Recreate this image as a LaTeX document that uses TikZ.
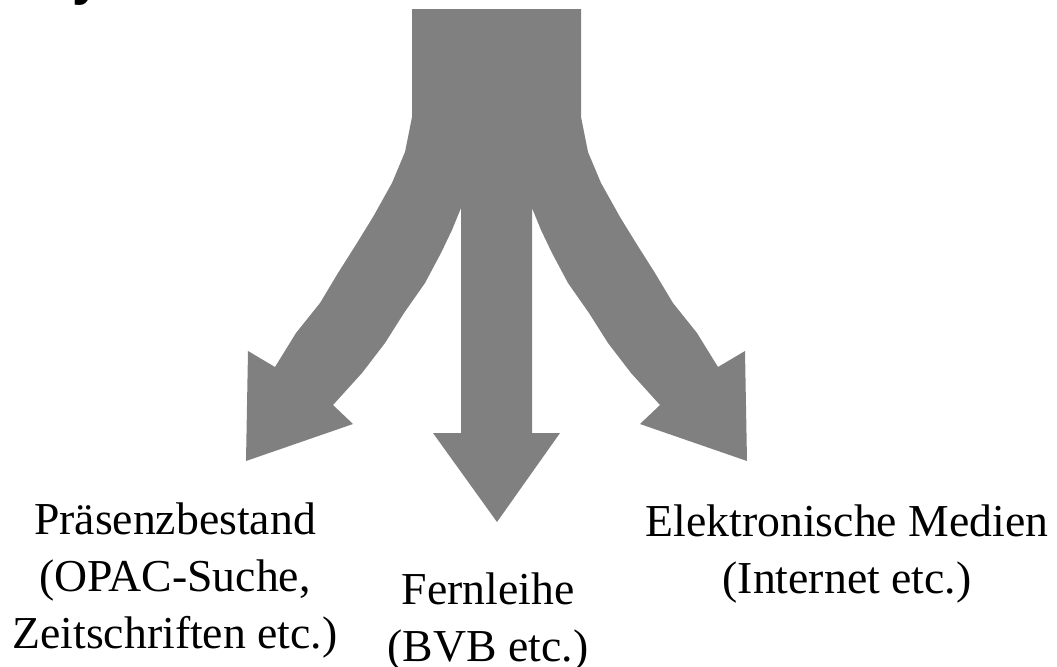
\documentclass[tikz,border=0pt]{standalone}
\usepackage{fontspec}
\setmainfont{Liberation Serif}
\newfontfamily\headfont{Liberation Sans Bold}
\usepackage{tikz}
\definecolor{arrowgray}{RGB}{128,128,128}

\begin{document}
\begin{tikzpicture}[x=0.01cm,y=-0.01cm,
  srctext/.style={anchor=north,align=center,inner sep=0pt,font=\fontsize{13}{16.2}\selectfont}]
\useasboundingbox (0,0) rectangle (1057,666);
% heading, cut off at the top
\node[anchor=base west,inner sep=0pt,font=\fontsize{15}{18}\headfont] (heading) at (72,-6) {y};

% three-way arrow
\fill[arrowgray] (412,9) -- (412,117) -- (405,152) -- (392,183) -- (373,217) -- (357,243)
  -- (338,273) -- (320,303) -- (296,333) -- (275,367) -- (248,351) -- (246,461)
  -- (353,424) -- (333,405) -- (362,373) -- (385,343) -- (404,313) -- (425,283)
  -- (441,253) -- (452,230) -- (461,208) -- (461,433) -- (433,433) -- (497,522)
  -- (560,433) -- (532,433) -- (532,208) -- (541,230) -- (552,253) -- (568,283)
  -- (589,313) -- (608,343) -- (631,373) -- (660,405) -- (640,424) -- (747,461)
  -- (745,351) -- (718,367) -- (697,333) -- (673,303) -- (655,273) -- (636,243)
  -- (620,217) -- (601,183) -- (588,152) -- (581,117) -- (581,9) -- cycle;

% sources
\node[srctext] (local) at (175,502) {Präsenzbestand\\(OPAC-Suche,\\Zeitschriften etc.)};
\node[srctext] (loan) at (488,572) {Fernleihe\\(BVB etc.)};
\node[srctext] (online) at (847,504) {Elektronische Medien\\(Internet etc.)};
\end{tikzpicture}
\end{document}
